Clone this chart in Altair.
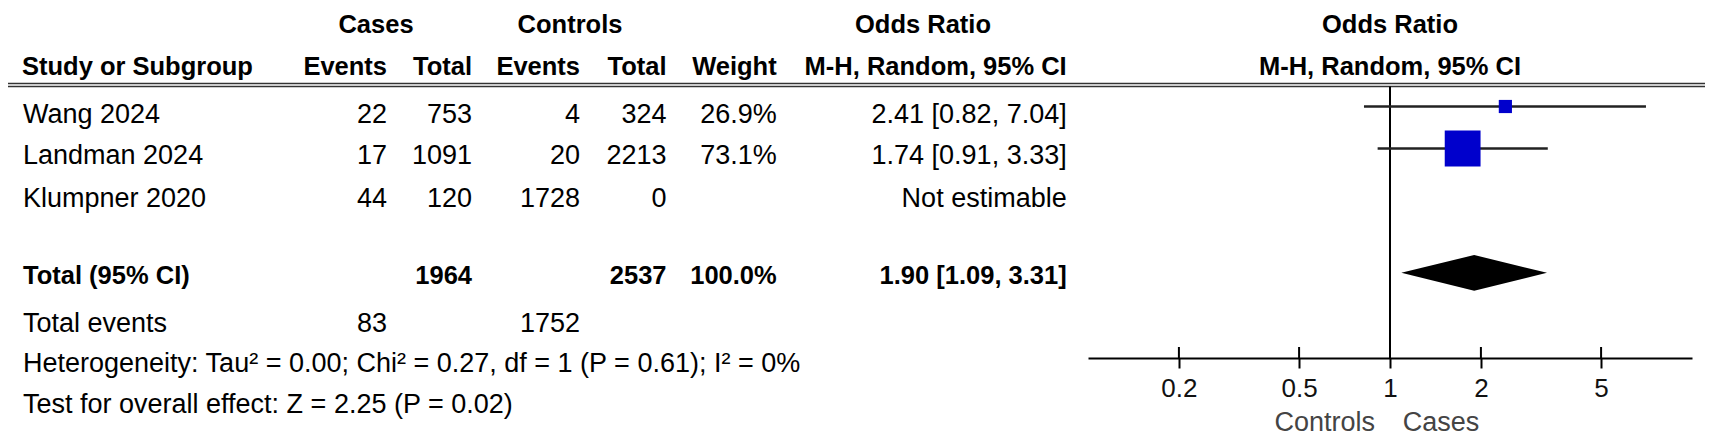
import altair as alt
import pandas as pd

# ---------------- data ----------------
studies = ["Wang 2024", "Landman 2024", "Klumpner 2020"]
case_events = [22, 17, 44]
case_totals = [753, 1091, 120]
ctrl_events = [4, 20, 1728]
ctrl_totals = [324, 2213, 0]
weights = [26.9, 73.1, None]
odds_ratio = [2.41, 1.74, None]
ci_lower = [0.82, 0.91, None]
ci_upper = [7.04, 3.33, None]

total_cases = 1964
total_controls = 2537
total_weight = 100.0
pooled_or = 1.90
pooled_lower = 1.09
pooled_upper = 3.31
total_case_events = 83
total_ctrl_events = 1752

tau2, chi2, df_het, p_het, i2 = "0.00", "0.27", 1, "0.61", 0
z_value, p_overall = "2.25", "0.02"

tick_values = [0.2, 0.5, 1, 2, 5]
x_domain = [0.1, 10]
favours = ["Controls", "Cases"]

# ---------------- layout ----------------
W, H = 1697, 350
PAD_BOTTOM = 79
ROW = 41.5                      # px per layout slot
FONT = "Liberation Sans"
FS, FS_B = 27, 25.5
X_RANGE = [1080, 1684]

def slot(px):
    return px / ROW

yscale = alt.Scale(domain=[0, H / ROW], reverse=True, nice=False, zero=False)
xscale = alt.Scale(type="log", domain=x_domain, range=X_RANGE, nice=False)
xaxis = alt.Axis(values=tick_values, format="~g", title=None, grid=False,
                 domainColor="#000", domainWidth=2, tickColor="#000", tickWidth=2,
                 tickSize=10, labelFont=FONT, labelFontSize=26, labelColor="#111",
                 labelPadding=28.7, labelBaseline="alphabetic", labelFlush=False,
                 labelOverlap=False)

Y_HDR1, Y_HDR2 = 25.3, 67
Y_TEXT = [115.3, 156, 198.7]
Y_GRAPH = [98.5, 140.5]
Y_TOTAL, Y_DIAMOND, DIAMOND_HALF = 276, 264.8, 17.85
Y_EVENTS, Y_HET, Y_TEST, Y_FAV = 323.7, 363.7, 405.3, 422.5
Y_RULE1, Y_RULE2 = 75.5, 78.5

COL_STUDY = 15
COL_CE, COL_CT, COL_KE, COL_KT, COL_W, COL_OR = 379, 464, 572, 658.5, 768.7, 1058.7


def fmt_or(o, lo, hi):
    return f"{o:.2f} [{lo:.2f}, {hi:.2f}]"


def text_layer(texts, ys, x_px, align, bold=False, color="#000", size=None):
    df = pd.DataFrame({"t": [str(t) for t in texts], "ys": [slot(y) for y in ys]})
    return alt.Chart(df).mark_text(
        align=align, baseline="alphabetic", font=FONT,
        fontSize=size or (FS_B if bold else FS),
        fontWeight="bold" if bold else "normal", color=color,
    ).encode(x=alt.value(x_px), y=alt.Y("ys:Q", scale=yscale, axis=None), text="t:N")


def center_text_layer(texts, ys, bold=True, align="center", dx=0, color="#000", size=None):
    df = pd.DataFrame({"t": texts, "ys": [slot(y) for y in ys], "x": [1] * len(texts)})
    return alt.Chart(df).mark_text(
        align=align, baseline="alphabetic", font=FONT, dx=dx,
        fontSize=size or (FS_B if bold else FS),
        fontWeight="bold" if bold else "normal", color=color,
    ).encode(x=alt.X("x:Q", scale=xscale, axis=xaxis),
             y=alt.Y("ys:Q", scale=yscale, axis=None), text="t:N")


layers = []

# header double line
rule_df = pd.DataFrame({"ys": [slot(Y_RULE1), slot(Y_RULE2)]})
layers.append(alt.Chart(rule_df).mark_rule(color="#333", strokeWidth=1.6).encode(
    x=alt.value(0), x2=alt.value(W), y=alt.Y("ys:Q", scale=yscale, axis=None)))

# headers
layers.append(text_layer(["Cases"], [Y_HDR1], 368, "center", bold=True))
layers.append(text_layer(["Controls"], [Y_HDR1], 562, "center", bold=True))
layers.append(text_layer(["Odds Ratio"], [Y_HDR1], 915, "center", bold=True))
layers.append(text_layer(["Study or Subgroup"], [Y_HDR2], 14, "left", bold=True))
layers.append(text_layer(["Events"], [Y_HDR2], COL_CE, "right", bold=True))
layers.append(text_layer(["Total"], [Y_HDR2], COL_CT, "right", bold=True))
layers.append(text_layer(["Events"], [Y_HDR2], COL_KE, "right", bold=True))
layers.append(text_layer(["Total"], [Y_HDR2], COL_KT, "right", bold=True))
layers.append(text_layer(["Weight"], [Y_HDR2], COL_W, "right", bold=True))
layers.append(text_layer(["M-H, Random, 95% CI"], [Y_HDR2], COL_OR, "right", bold=True))
layers.append(center_text_layer(["Odds Ratio", "M-H, Random, 95% CI"], [Y_HDR1, Y_HDR2]))

# study rows
or_texts = [fmt_or(o, lo, hi) if o is not None else "Not estimable"
            for o, lo, hi in zip(odds_ratio, ci_lower, ci_upper)]
w_texts = [f"{w:.1f}%" if w is not None else "" for w in weights]
layers.append(text_layer(studies, Y_TEXT, COL_STUDY, "left"))
layers.append(text_layer(case_events, Y_TEXT, COL_CE, "right"))
layers.append(text_layer(case_totals, Y_TEXT, COL_CT, "right"))
layers.append(text_layer(ctrl_events, Y_TEXT, COL_KE, "right"))
layers.append(text_layer(ctrl_totals, Y_TEXT, COL_KT, "right"))
layers.append(text_layer(w_texts, Y_TEXT, COL_W, "right"))
layers.append(text_layer(or_texts, Y_TEXT, COL_OR, "right"))

# total row
layers.append(text_layer(["Total (95% CI)"], [Y_TOTAL], COL_STUDY, "left", bold=True))
layers.append(text_layer([total_cases], [Y_TOTAL], COL_CT, "right", bold=True))
layers.append(text_layer([total_controls], [Y_TOTAL], COL_KT, "right", bold=True))
layers.append(text_layer([f"{total_weight:.1f}%"], [Y_TOTAL], COL_W, "right", bold=True))
layers.append(text_layer([fmt_or(pooled_or, pooled_lower, pooled_upper)], [Y_TOTAL], COL_OR, "right", bold=True))

# total events & statistics
layers.append(text_layer(["Total events"], [Y_EVENTS], COL_STUDY, "left"))
layers.append(text_layer([total_case_events], [Y_EVENTS], COL_CE, "right"))
layers.append(text_layer([total_ctrl_events], [Y_EVENTS], COL_KE, "right"))
het = (f"Heterogeneity: Tau\u00b2 = {tau2}; Chi\u00b2 = {chi2}, df = {df_het} "
       f"(P = {p_het}); I\u00b2 = {i2}%")
test = f"Test for overall effect: Z = {z_value} (P = {p_overall})"
layers.append(text_layer([het], [Y_HET], COL_STUDY, "left"))
layers.append(text_layer([test], [Y_TEST], COL_STUDY, "left"))

# ---------------- forest plot ----------------
vline = pd.DataFrame({"x": [1], "y0": [slot(Y_RULE2)], "y1": [slot(H)]})
layers.append(alt.Chart(vline).mark_rule(color="#000", strokeWidth=2).encode(
    x=alt.X("x:Q", scale=xscale, axis=xaxis),
    y=alt.Y("y0:Q", scale=yscale, axis=None), y2="y1:Q"))

# upper halves of the axis ticks
tick_df = pd.DataFrame({"v": tick_values})
layers.append(alt.Chart(tick_df).mark_rule(color="#000", strokeWidth=2).encode(
    x=alt.X("v:Q", scale=xscale, axis=xaxis), y=alt.value(H - 11), y2=alt.value(H)))

est = pd.DataFrame({
    "or": odds_ratio[:2], "lo": ci_lower[:2], "hi": ci_upper[:2],
    "w": weights[:2], "ys": [slot(y) for y in Y_GRAPH],
})
layers.append(alt.Chart(est).mark_rule(color="#222", strokeWidth=2.5).encode(
    x=alt.X("lo:Q", scale=xscale, axis=xaxis), x2="hi:Q",
    y=alt.Y("ys:Q", scale=yscale, axis=None)))
layers.append(alt.Chart(est).transform_calculate(
    area="pow(0.49 * datum.w, 2)"
).mark_square(color="#0000CC", opacity=1, filled=True, strokeWidth=0).encode(
    x=alt.X("or:Q", scale=xscale, axis=xaxis),
    y=alt.Y("ys:Q", scale=yscale, axis=None),
    size=alt.Size("area:Q", scale=None, legend=None)))

c, h = slot(Y_DIAMOND), slot(DIAMOND_HALF)
diamond = pd.DataFrame({
    "x": [pooled_lower, pooled_or, pooled_upper],
    "top": [c, c - h, c], "bot": [c, c + h, c],
})
layers.append(alt.Chart(diamond).mark_area(color="#000", opacity=1, orient="vertical").encode(
    x=alt.X("x:Q", scale=xscale, axis=xaxis),
    y=alt.Y("top:Q", scale=yscale, axis=None), y2="bot:Q"))

# favours labels
layers.append(center_text_layer([favours[0]], [Y_FAV], bold=False, align="right", dx=-15, color="#444"))
layers.append(center_text_layer([favours[1]], [Y_FAV], bold=False, align="left", dx=12.7, color="#444"))

chart = alt.layer(*layers).properties(
    width=W, height=H,
    padding={"left": 0, "top": 0, "right": 0, "bottom": PAD_BOTTOM},
    autosize=alt.AutoSizeParams(type="none"),
    background="white",
).configure_view(strokeWidth=0)

chart.save("out.html", embed_options={"renderer": "svg", "actions": False})
